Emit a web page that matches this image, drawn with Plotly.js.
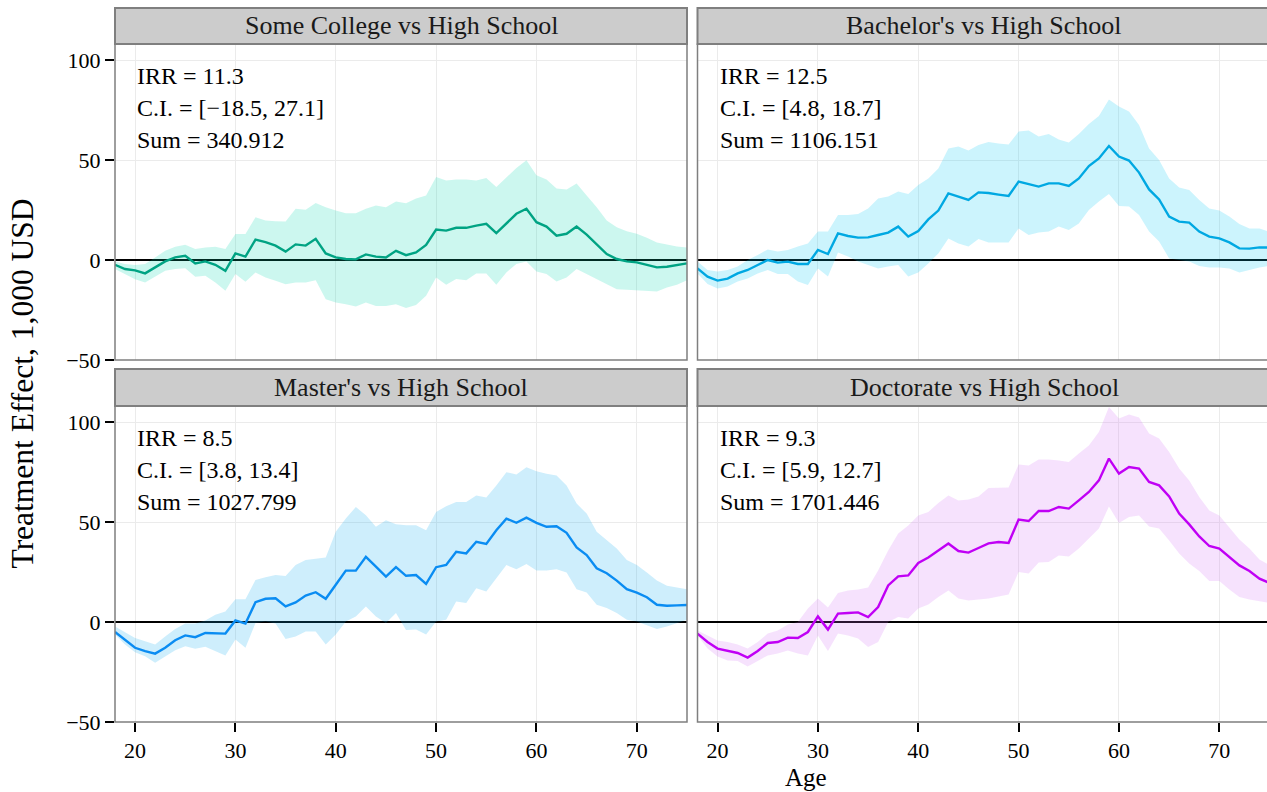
<!DOCTYPE html>
<html>
<head>
<meta charset="utf-8">
<script src="https://cdn.plot.ly/plotly-3.0.1.min.js"></script>
<style>html,body{margin:0;padding:0;background:#fff;}#chart{width:1267px;height:792px;}</style>
</head>
<body>
<div id="chart"></div>
<script>
const ages = [18,19,20,21,22,23,24,25,26,27,28,29,30,31,32,33,34,35,36,37,38,39,40,41,42,43,44,45,46,47,48,49,50,51,52,53,54,55,56,57,58,59,60,61,62,63,64,65,66,67,68,69,70,71,72,73,74,75];

const panelTitles = ["Some College vs High School", "Bachelor's vs High School", "Master's vs High School", "Doctorate vs High School"];
const irrLabels = ["IRR = 11.3", "IRR = 12.5", "IRR = 8.5", "IRR = 9.3"];
const ciLabels = ["C.I. = [\u221218.5, 27.1]", "C.I. = [4.8, 18.7]", "C.I. = [3.8, 13.4]", "C.I. = [5.9, 12.7]"];
const sumLabels = ["Sum = 340.912", "Sum = 1106.151", "Sum = 1027.799", "Sum = 1701.446"];

const someCollegeEst = [-2.4,-4.5,-5.2,-6.7,-3.7,-0.7,1.3,2.1,-1.7,-0.7,-2.4,-5.4,3.3,1.7,10.2,8.9,7.2,4.2,7.8,7.2,10.6,3.3,1.3,0.5,0.3,2.8,1.7,1.3,4.6,2.4,3.8,7.5,15.2,14.7,16.1,16.1,17.2,18.1,13.4,18.4,23.1,25.6,18.9,16.7,12.2,13.1,16.7,12.7,8.0,3.0,0.5,-0.7,-1.2,-2.4,-3.7,-3.4,-2.5,-1.7];
const someCollegeUpper = [-0.8,-2.0,-2.5,-2.0,1.3,4.6,6.6,7.6,5.5,6.3,6.6,5.5,13.0,13.0,21.4,19.8,19.4,19.2,25.6,25.1,28.5,26.4,24.8,23.4,23.4,25.6,27.3,26.4,29.3,28.4,30.7,32.3,41.5,39.8,40.2,40.2,39.8,41.0,36.5,41.2,46.0,49.9,42.4,40.2,35.7,35.2,38.2,32.3,26.4,19.7,16.4,14.4,13.1,11.1,8.8,7.7,6.8,6.3];
const someCollegeLower = [-4.5,-7.0,-9.6,-11.2,-8.4,-5.4,-4.5,-4.1,-8.4,-7.9,-11.2,-15.4,-7.0,-10.9,-6.2,-8.7,-10.4,-12.1,-11.2,-11.2,-10.1,-19.6,-21.3,-22.1,-23.3,-21.3,-23.0,-23.0,-22.1,-24.0,-22.5,-17.9,-8.7,-12.4,-9.5,-10.1,-6.7,-6.7,-12.4,-6.2,-2.0,-0.7,-5.7,-7.0,-10.8,-8.7,-4.5,-7.0,-9.5,-12.4,-14.6,-14.9,-15.1,-15.4,-15.8,-13.8,-12.4,-10.1];

const bachelorEst = [-4.2,-8.3,-10.3,-9.3,-6.7,-5.0,-2.5,0,-1.3,-0.8,-2.0,-2.0,5.0,3.0,13.3,12.0,11.2,11.3,12.5,13.7,16.7,11.7,14.5,20.3,24.7,33.3,31.7,30.0,33.8,33.5,32.7,32.0,39.2,37.8,36.7,38.3,38.3,37.0,40.8,47.0,50.8,57.0,51.7,49.7,43.7,35.3,30.3,21.7,19.2,18.7,14.2,11.7,10.8,8.8,5.8,5.7,6.3,6.2];
const bachelorUpper = [-0.8,-5.0,-5.8,-5.0,-3.3,0,2.5,5.3,4.2,5.0,6.7,8.3,14.2,14.2,22.5,22.5,23.0,25.8,30.8,31.7,34.2,33.0,37.5,40.8,45.8,55.8,56.7,54.7,57.5,59.0,58.3,57.8,64.2,64.7,61.7,63.0,60.3,58.7,63.0,68.0,72.0,80.3,76.7,74.2,67.5,55.8,50.0,40.8,36.3,35.0,30.0,25.8,24.7,21.7,18.0,15.8,15.8,14.0];
const bachelorLower = [-6.7,-12.0,-14.2,-13.3,-10.8,-9.2,-6.7,-5.0,-7.0,-7.0,-10.8,-12.5,-4.2,-8.3,3.7,1.7,-0.8,-2.5,-4.2,-3.3,-2.5,-8.3,-6.3,-1.7,3.3,10.8,8.3,6.7,10.5,8.7,8.7,8.7,15.8,12.5,13.8,14.2,16.7,15.0,18.3,25.0,29.2,33.0,27.0,26.7,22.5,14.2,9.2,0.8,0,-0.8,-3.0,-3.7,-3.7,-4.2,-6.3,-5.0,-3.7,-3.0];

const masterEst = [-5.0,-8.8,-12.9,-14.6,-15.8,-12.9,-9.1,-6.7,-7.6,-5.5,-5.8,-5.8,0.8,-0.8,9.9,11.6,11.9,7.8,9.8,13.2,14.9,11.6,18.6,25.7,25.7,32.6,27.7,22.7,27.4,23.1,23.5,19.1,27.4,28.5,35.1,34.3,40.1,39.0,45.9,51.7,49.6,52.2,49.6,47.6,47.9,44.6,37.3,33.5,26.9,24.4,20.7,16.4,14.7,12.4,8.6,8.1,8.3,8.5];
const masterUpper = [-2.2,-5.2,-8.0,-9.6,-11.3,-7.2,-3.5,-0.8,-0.8,0.8,3.6,5.3,11.4,11.4,21.0,22.4,23.5,23.0,28.5,31.0,31.8,32.3,45.1,51.7,57.5,53.4,47.6,50.9,48.9,48.4,48.4,45.9,55.0,57.9,60.0,60.0,63.3,62.2,68.3,74.9,73.8,77.4,75.4,74.1,73.3,68.3,59.2,54.2,45.1,40.9,36.8,31.0,28.5,24.7,20.7,18.1,17.4,16.4];
const masterLower = [-6.3,-11.3,-15.1,-17.1,-20.4,-17.4,-14.1,-12.1,-13.4,-12.4,-14.6,-16.8,-8.8,-12.9,-0.5,0.3,-0.8,-8.5,-7.2,-4.7,-4.7,-11.3,-6.3,0.3,2.8,7.8,2.8,-0.5,4.5,-4.0,-3.8,-6.3,0.3,1.1,10.2,9.5,16.9,15.2,21.9,28.5,26.4,29.0,25.7,25.7,26.4,24.7,16.4,14.7,8.6,7.0,4.5,1.1,0.3,-1.8,-3.5,-2.2,-0.5,1.1];

const doctorateEst = [-5.8,-10.0,-13.3,-14.5,-15.5,-17.8,-14.5,-10.5,-10.0,-7.8,-8.0,-5.0,2.8,-3.8,4.2,4.5,4.8,2.5,7.5,18.3,22.8,23.3,29.5,32.2,35.8,39.2,35.5,34.7,37.0,39.3,40.0,39.5,51.2,50.5,55.5,55.5,57.5,56.7,60.8,65.0,70.8,81.7,74.2,77.5,76.7,70.0,68.3,62.8,54.2,48.8,42.8,38.0,36.7,32.5,28.3,25.5,21.7,19.5];
const doctorateUpper = [-4.2,-6.7,-9.2,-10.0,-11.2,-13.3,-10.0,-5.8,-4.2,-1.2,0,6.7,11.7,7.2,14.5,15.8,16.2,17.2,25.8,35.8,44.2,48.3,53.3,55.0,59.5,63.3,60.8,61.2,62.8,67.0,67.2,67.2,78.8,78.3,81.2,81.2,80.8,80.0,84.2,88.3,95.0,107.5,101.7,103.8,102.2,94.2,91.7,85.0,76.7,70.8,62.5,55.8,53.3,47.2,41.2,36.7,31.2,28.5];
const doctorateLower = [-6.7,-13.3,-17.2,-19.2,-19.5,-22.2,-19.5,-16.7,-15.8,-14.2,-15.8,-16.7,-6.7,-14.5,-5.8,-6.7,-8.3,-12.5,-10.0,0,2.5,1.7,6.7,8.8,12.5,15.8,11.7,10.8,11.2,11.7,12.8,13.8,25.0,24.2,29.7,30.0,33.3,32.8,36.7,41.7,46.7,57.8,49.5,52.5,53.3,47.8,46.7,40.8,34.2,29.2,25.5,20.5,20.5,16.2,12.5,11.2,10.3,9.5];

const xTickVals = [20,30,40,50,60,70];
const yTickVals = [-50,0,50,100];

const estimates = [someCollegeEst, bachelorEst, masterEst, doctorateEst];
const uppers = [someCollegeUpper, bachelorUpper, masterUpper, doctorateUpper];
const lowers = [someCollegeLower, bachelorLower, masterLower, doctorateLower];
const lineColors = ["#00a383", "#00a8e2", "#0a8cf2", "#c000f5"];
const fillColors = ["rgba(0,215,175,0.2)", "rgba(0,200,245,0.2)", "rgba(10,170,240,0.2)", "rgba(210,110,245,0.2)"];

const FONT = "Liberation Serif, Times New Roman, serif";
const W = 1267, H = 792;
const mL = 115, mR = 0, mT = 0, mB = 70;
const PW = W - mL - mR, PH = H - mT - mB;
const colPx = [[115, 687], [697.5, 1267]];
const rowPx = [[44, 360], [406, 722]];
const stripPx = [[8, 44], [369, 406]];
const px2x = p => (p - mL) / PW;
const px2y = p => (PH - (p - mT)) / PH;

const traces = [];
const layout = {
  width: W, height: H,
  margin: {l: mL, r: mR, t: mT, b: mB, pad: 0},
  paper_bgcolor: "#ffffff", plot_bgcolor: "#ffffff",
  showlegend: false,
  font: {family: FONT, size: 22, color: "#000000"},
  shapes: [], annotations: []
};

for (let i = 0; i < 4; i++) {
  const r = Math.floor(i / 2), c = i % 2;
  const n = i + 1;
  const xa = n === 1 ? "x" : "x" + n, ya = n === 1 ? "y" : "y" + n;
  const xk = n === 1 ? "xaxis" : "xaxis" + n, yk = n === 1 ? "yaxis" : "yaxis" + n;
  const xr = c === 0 ? [18, 75] : [18, 18 + (colPx[1][1] - colPx[1][0]) / ((colPx[0][1] - colPx[0][0]) / 57)];
  layout[xk] = {
    domain: [px2x(colPx[c][0]), px2x(colPx[c][1])],
    anchor: ya, range: xr, tickmode: "array", tickvals: xTickVals,
    showticklabels: r === 1, ticks: r === 1 ? "outside" : "", ticklen: 9, tickwidth: 2, tickcolor: "#000",
    showgrid: true, gridcolor: "#ebebeb", gridwidth: 1, zeroline: false, showline: false,
    tickfont: {family: FONT, size: 22, color: "#000"}, fixedrange: true
  };
  layout[yk] = {
    domain: [px2y(rowPx[r][1]), px2y(rowPx[r][0])],
    anchor: xa, range: [-50, 108], tickmode: "array", tickvals: yTickVals,
    showticklabels: c === 0, ticks: c === 0 ? "outside" : "", ticklen: 9, tickwidth: 2, tickcolor: "#000",
    showgrid: true, gridcolor: "#ebebeb", gridwidth: 1,
    zeroline: true, zerolinecolor: "#000", zerolinewidth: 2.2, showline: false,
    tickfont: {family: FONT, size: 22, color: "#000"}, fixedrange: true
  };
  traces.push({x: ages, y: lowers[i], xaxis: xa, yaxis: ya, type: "scatter", mode: "lines",
    line: {width: 0, color: "rgba(0,0,0,0)"}, hoverinfo: "skip"});
  traces.push({x: ages, y: uppers[i], xaxis: xa, yaxis: ya, type: "scatter", mode: "lines",
    line: {width: 0, color: "rgba(0,0,0,0)"}, fill: "tonexty", fillcolor: fillColors[i], hoverinfo: "skip"});
  traces.push({x: ages, y: estimates[i], xaxis: xa, yaxis: ya, type: "scatter", mode: "lines",
    line: {width: 2.4, color: lineColors[i]}});

  layout.shapes.push({type: "rect", xref: "paper", yref: "paper", layer: "above",
    x0: px2x(colPx[c][0]), x1: c === 1 ? 1.01 : px2x(colPx[c][1]),
    y0: px2y(rowPx[r][1]), y1: px2y(rowPx[r][0]),
    line: {color: "#7f7f7f", width: 1.5}, fillcolor: "rgba(0,0,0,0)"});
  layout.shapes.push({type: "rect", xref: "paper", yref: "paper", layer: "above",
    x0: px2x(colPx[c][0]), x1: c === 1 ? 1.01 : px2x(colPx[c][1]),
    y0: px2y(stripPx[r][1]), y1: px2y(stripPx[r][0]),
    line: {color: "#7f7f7f", width: 2}, fillcolor: "#cccccc"});
  layout.annotations.push({xref: "paper", yref: "paper",
    x: (px2x(colPx[c][0]) + px2x(c === 1 ? 1267 + 4 : colPx[c][1])) / 2,
    y: (px2y(stripPx[r][0]) + px2y(stripPx[r][1])) / 2,
    text: panelTitles[i], showarrow: false, xanchor: "center", yanchor: "middle",
    font: {family: FONT, size: 26, color: "#1a1a1a"}});
  const labels = [irrLabels[i], ciLabels[i], sumLabels[i]];
  const ys = [92, 76, 60];
  for (let k = 0; k < 3; k++) {
    layout.annotations.push({xref: xa, yref: ya, x: 20, y: ys[k], text: labels[k],
      showarrow: false, xanchor: "left", yanchor: "middle",
      font: {family: FONT, size: 24, color: "#000"}});
  }
}

layout.annotations.push({xref: "paper", yref: "paper", x: px2x(22), y: px2y(383.5),
  text: "Treatment Effect, 1,000 USD", textangle: -90, showarrow: false,
  xanchor: "center", yanchor: "middle", font: {family: FONT, size: 31.5, color: "#000"}});
layout.annotations.push({xref: "paper", yref: "paper", x: px2x(805.5), y: px2y(777),
  text: "Age", showarrow: false, xanchor: "center", yanchor: "middle",
  font: {family: FONT, size: 25, color: "#000"}});

Plotly.newPlot("chart", traces, layout, {staticPlot: true, displayModeBar: false});
</script>
</body>
</html>
